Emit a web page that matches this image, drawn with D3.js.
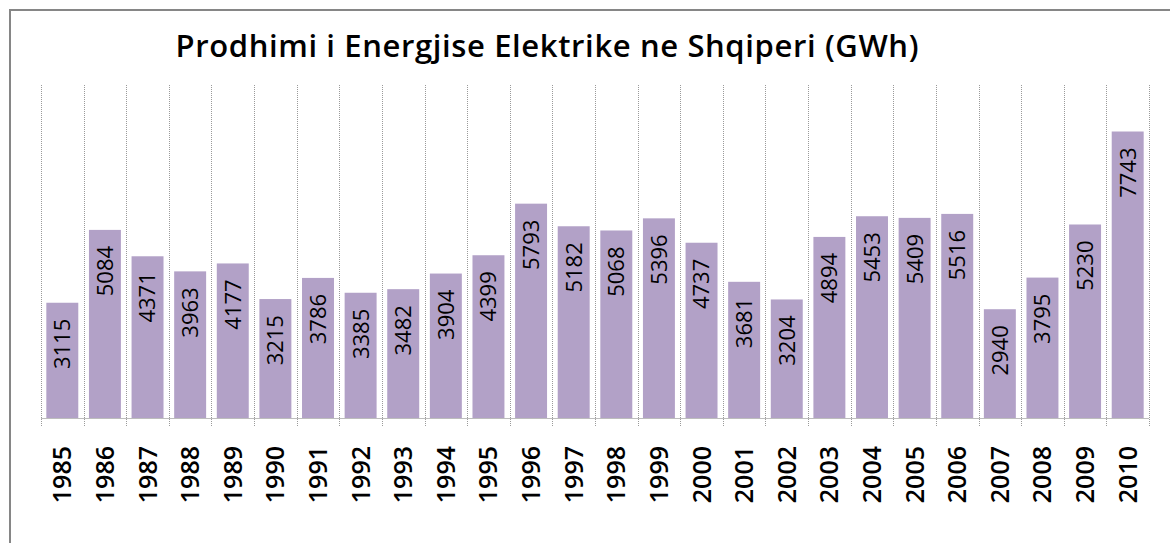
<!DOCTYPE html>
<html lang="sq">
<head>
<meta charset="utf-8">
<title>Prodhimi i Energjise Elektrike ne Shqiperi</title>
<script src="https://d3js.org/d3.v7.min.js"></script>
<style>
    html, body {
        margin: 0;
        padding: 0;
        background: #fff;
    }
    svg {
        display: block;
    }
    text {
        font-family: "Open Sans", "Noto Sans", sans-serif;
        fill: #000;
    }
    .grid line {
        stroke: #9a9a9a;
        stroke-dasharray: 1,1;
    }
</style>
</head>
<body>
<svg id="chart"></svg>
<script>
    const years = ["1985", "1986", "1987", "1988", "1989", "1990", "1991", "1992", "1993",
        "1994", "1995", "1996", "1997", "1998", "1999", "2000", "2001", "2002", "2003",
        "2004", "2005", "2006", "2007", "2008", "2009", "2010"];
    const production = [3115, 5084, 4371, 3963, 4177, 3215, 3786, 3385, 3482, 3904, 4399,
        5793, 5182, 5068, 5396, 4737, 3681, 3204, 4894, 5453, 5409, 5516, 2940, 3795,
        5230, 7743];
    const title = "Prodhimi i Energjise Elektrike ne Shqiperi (GWh)";

    const width = 1170;
    const height = 543;
    const svg = d3.select('#chart').attr('width', width).attr('height', height);

    // chart frame (right and bottom edges are outside the picture)
    svg.append('path')
        .attr('d', 'M10,' + height + ' V10 H' + width)
        .attr('fill', 'none')
        .attr('stroke', '#868686')
        .attr('stroke-width', 2);

    svg.append('text')
        .attr('x', 547)
        .attr('y', 57)
        .attr('text-anchor', 'middle')
        .attr('font-weight', 600)
        .attr('font-size', '31px')
        .attr('textLength', 743)
        .attr('lengthAdjust', 'spacing')
        .text(title);

    const x = d3.scaleBand()
        .domain(years)
        .range([41, 1149])
        .paddingInner(0.25)
        .paddingOuter(0.125);

    const y = d3.scaleLinear()
        .domain([0, 9000])
        .range([418, 85]);

    const step = x.step();
    const half = step * x.paddingInner() / 2;

    // dotted vertical gridlines on the category boundaries
    const bounds = years.map(d => x(d) - half).concat([x(years[years.length - 1]) + x.bandwidth() + half]);
    svg.append('g')
        .attr('class', 'grid')
        .selectAll('line')
        .data(bounds)
        .join('line')
        .attr('x1', d => Math.round(d) + 0.5)
        .attr('x2', d => Math.round(d) + 0.5)
        .attr('y1', y.range()[1])
        .attr('y2', y(0) + 9);

    const data = years.map((d, i) => ({year: d, value: production[i]}));

    svg.append('g')
        .selectAll('rect')
        .data(data)
        .join('rect')
        .attr('x', d => x(d.year))
        .attr('width', x.bandwidth())
        .attr('y', d => y(d.value))
        .attr('height', d => y(0) - y(d.value))
        .attr('fill', '#b2a1c7');

    // category axis line
    svg.append('line')
        .attr('x1', x.range()[0])
        .attr('x2', x.range()[1])
        .attr('y1', y(0) + 0.5)
        .attr('y2', y(0) + 0.5)
        .attr('stroke', '#bdbdbd');

    // value labels inside the top of each bar
    svg.append('g')
        .selectAll('text')
        .data(data)
        .join('text')
        .attr('transform', d => 'translate(' + (x(d.year) + x.bandwidth() / 2) + ',' + (y(d.value) + 16) + ') rotate(-90)')
        .attr('text-anchor', 'end')
        .attr('dy', '0.36em')
        .attr('font-size', '22px')
        .text(d => d.value);

    // year labels under the axis
    svg.append('g')
        .selectAll('text')
        .data(years)
        .join('text')
        .attr('transform', d => 'translate(' + (x(d) + x.bandwidth() / 2) + ',446) rotate(-90)')
        .attr('text-anchor', 'end')
        .attr('dy', '0.36em')
        .attr('font-weight', 600)
        .attr('font-size', '25px')
        .text(d => d);
</script>
</body>
</html>
